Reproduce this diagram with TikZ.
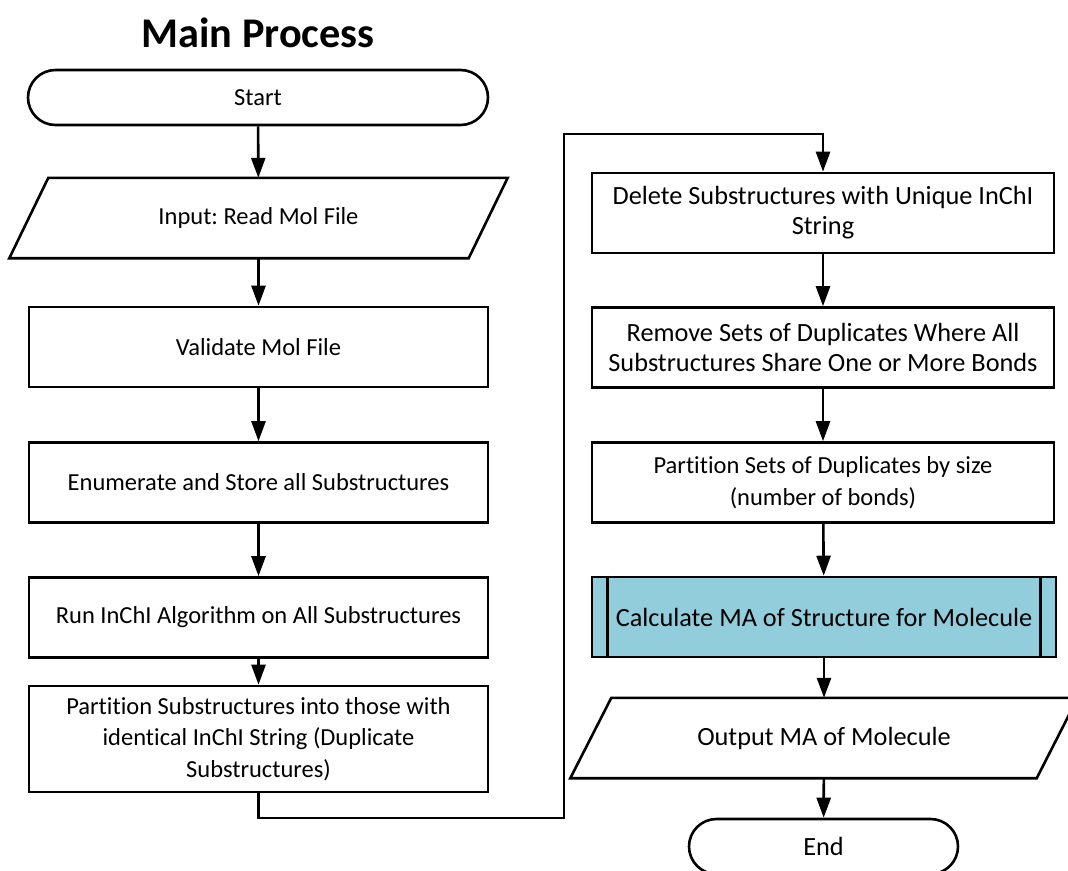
\documentclass[tikz,border=0pt]{standalone}
\usepackage{fontspec}
\setmainfont{Carlito}[Ligatures=NoCommon]
\usetikzlibrary{shapes.misc,arrows.meta}

\definecolor{subfill}{HTML}{92CDDC}

\tikzset{
  lbl/.style={font=\fontsize{24.5}{31.5}\selectfont, align=center, inner sep=0pt},
  lblR/.style={font=\fontsize{26.3}{30}\selectfont, align=center, inner sep=0pt},
  outline/.style={draw=black, line width=2.6pt},
  procbox/.style={lbl, outline, rectangle, minimum height=80pt},
  procboxR/.style={procbox, lblR},
  termbox/.style={lbl, outline, rounded rectangle, minimum height=55pt},
  iobox/.style={lbl, rectangle, minimum height=80pt},
  flow/.style={line width=2.6pt, -{Triangle[length=20pt,width=14pt]}},
}

\begin{document}
\frenchspacing
\begin{tikzpicture}[x=1pt,y=-1pt]
\path[use as bounding box, clip] (0,0) rectangle (1068,870);

% title
\node[font=\fontsize{42.3}{50}\bfseries] (title) at (258,33) {Main Process};

% left column
\node[termbox, minimum width=460pt] (start) at (258,97.5) {Start};
\node[iobox, minimum width=459pt] (input) at (258.5,218) {Input: Read Mol File};
\draw[outline] ([xshift=19.5pt]input.north west) -- ([xshift=19.5pt]input.north east)
  -- ([xshift=-19.5pt]input.south east) -- ([xshift=-19.5pt]input.south west) -- cycle;
\node[procbox, minimum width=459pt] (valid) at (258.5,347) {Validate Mol File};
\node[procbox, minimum width=459pt] (enum) at (258.5,482.5) {Enumerate and Store all Substructures};
\node[procbox, minimum width=459pt] (inchi) at (258.5,617.5) {Run InChI Algorithm on All Substructures};
\node[procbox, minimum width=459pt, minimum height=106pt] (part) at (258.5,739)
  {Partition Substructures into those with\\identical InChI String (Duplicate\\Substructures)};

% right column
\node[procboxR, minimum width=462pt] (del) at (823,213) {Delete Substructures with Unique InChI\\String};
\node[procboxR, minimum width=462pt] (rem) at (823,347.5) {Remove Sets of Duplicates Where All\\Substructures Share One or More Bonds};
\node[procbox, minimum width=462pt] (size) at (823,482.5) {Partition Sets of Duplicates by size\\(number of bonds)};
\node[procboxR, minimum width=464pt, fill=subfill] (calc) at (824,617) {Calculate MA of Structure for Molecule};
\draw[line width=2.6pt] ([xshift=17pt]calc.north west) -- ([xshift=17pt]calc.south west);
\draw[line width=2.6pt] ([xshift=-17pt]calc.north east) -- ([xshift=-17pt]calc.south east);
\node[iobox, lblR, minimum width=466pt] (output) at (824,738) {Output MA of Molecule};
\draw[outline] ([xshift=20.5pt]output.north west) -- ([xshift=20.5pt]output.north east)
  -- ([xshift=-20.5pt]output.south east) -- ([xshift=-20.5pt]output.south west) -- cycle;
\node[termbox, lblR, minimum width=269pt] (end) at (823.5,846.5) {End};

% connectors
\draw[flow] (start) -- (input);
\draw[flow] (input) -- (valid);
\draw[flow] (valid) -- (enum);
\draw[flow] (enum) -- (inchi);
\draw[flow] (inchi) -- (part);
\coordinate (turnA) at (564,818);
\coordinate (turnB) at (564,134);
\draw[flow] (part.south) |- (turnA) -- (turnB) -| (del.north);
\draw[flow] (del) -- (rem);
\draw[flow] (rem) -- (size);
\draw[flow] (size) -- (calc);
\draw[flow] (calc) -- (output);
\draw[flow] (output) -- (end);
\end{tikzpicture}
\end{document}
